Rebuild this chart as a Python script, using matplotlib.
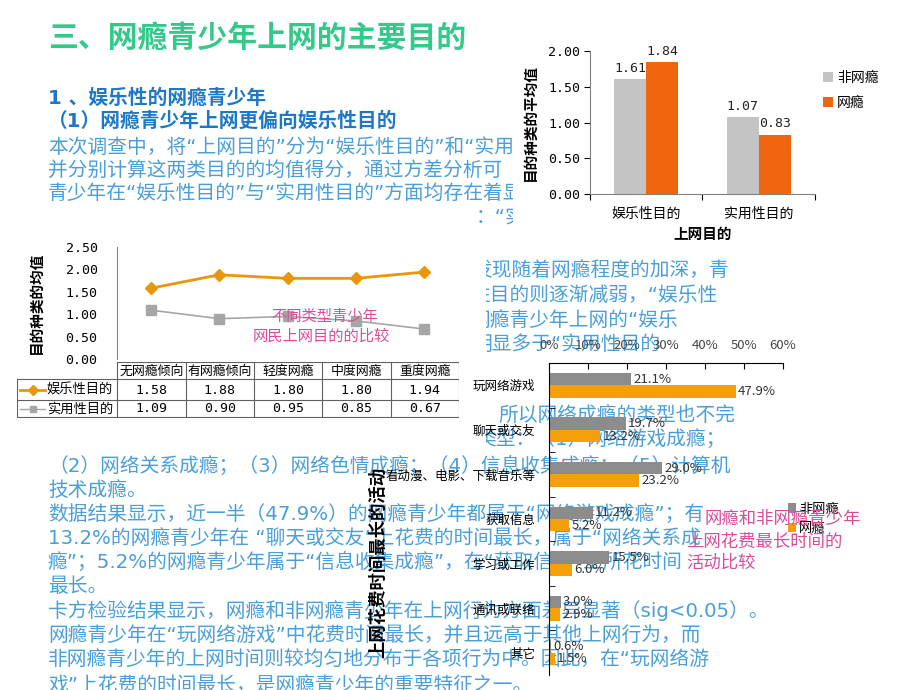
"""
网瘾青少年上网目的 - slide recreation
"""

import matplotlib
matplotlib.use("Agg")
import matplotlib.pyplot as plt
from matplotlib.patches import Rectangle

plt.rcParams['font.family'] = ['Noto Sans CJK SC', 'DejaVu Sans']
plt.rcParams['axes.unicode_minus'] = False

W, H = 920, 690

# 上网目的均值（非网瘾 / 网瘾）
purpose_cats = ['娱乐性目的', '实用性目的']
purpose_non = [1.61, 1.07]
purpose_add = [1.84, 0.83]
purpose_ticks = [0.0, 0.5, 1.0, 1.5, 2.0]

# 不同类型青少年网民上网目的
level_cats = ['无网瘾倾向', '有网瘾倾向', '轻度网瘾', '中度网瘾', '重度网瘾']
level_fun = [1.58, 1.88, 1.80, 1.80, 1.94]
level_use = [1.09, 0.90, 0.95, 0.85, 0.67]
level_ticks = [0.0, 0.5, 1.0, 1.5, 2.0, 2.5]
level_rows = ['娱乐性目的', '实用性目的']

# 上网花费时间最长的活动 (%)
act_cats = ['玩网络游戏', '聊天或交友', '看动漫、电影、下载音乐等', '获取信息',
            '学习或工作', '通讯或联络', '其它']
act_non = [21.1, 19.7, 29.0, 11.2, 15.5, 3.0, 0.6]
act_add = [47.9, 13.2, 23.2, 5.2, 6.0, 2.9, 1.5]
act_ticks = [0, 10, 20, 30, 40, 50, 60]

GREEN = '#33C98A'
HEAD = '#1F78C6'
BODY = '#4A9FD8'
PINK = '#DB4B9A'
MONO = 'DejaVu Sans Mono'
LATIN_FIRST = ['DejaVu Sans', 'Noto Sans CJK SC']   # narrow quotes / digits


def box(x0, y0, x1, y1):
    """pixel box (top-left origin) -> figure fraction rect"""
    return [x0 / W, 1 - y1 / H, (x1 - x0) / W, (y1 - y0) / H]


def ftext(fig, x, y, s, **kw):
    kw.setdefault('va', 'center')
    kw.setdefault('zorder', 0)
    return fig.text(x / W, 1 - y / H, s, **kw)


def white_box(fig, x0, y0, x1, y1):
    r = Rectangle((x0 / W, 1 - y1 / H), (x1 - x0) / W, (y1 - y0) / H,
                  transform=fig.transFigure, facecolor='white',
                  edgecolor='none', zorder=0.5)
    fig.add_artist(r)


fig = plt.figure(figsize=(9.2, 6.9), dpi=100)
fig.patch.set_facecolor('white')

# ---- text -----------------------------------------------------------------
ftext(fig, 48, 38, '三、网瘾青少年上网的主要目的', fontsize=21.5, color=GREEN,
      fontweight='bold')
ftext(fig, 48, 98, '1 、娱乐性的网瘾青少年', fontsize=14.2, color=HEAD,
      fontweight='bold', family=LATIN_FIRST)
ftext(fig, 48, 121, '（1）网瘾青少年上网更偏向娱乐性目的', fontsize=14.2, color=HEAD,
      fontweight='bold', family=LATIN_FIRST)

body = [
    (48, 147, '本次调查中，将“上网目的”分为“娱乐性目的”和“实用性'),
    (48, 170, '并分别计算这两类目的的均值得分，通过方差分析可'),
    (48, 193, '青少年在“娱乐性目的”与“实用性目的”方面均存在着显'),
    (476, 218, '：“实'),
    (472, 270, '发现随着网瘾程度的加深，青'),
    (470, 295, '性目的则逐渐减弱，“娱乐性'),
    (470, 320, '网瘾青少年上网的“娱乐'),
    (472, 344, '明显多于“实用性目的'),
    (498, 415, '所以网络成瘾的类型也不完'),
    (476, 440, '类型：（1）网络游戏成瘾；'),
    (48, 466, '（2）网络关系成瘾；（3）网络色情成瘾；（4）信息收集成瘾；（5）计算机'),
    (48, 490, '技术成瘾。'),
    (48, 515, '数据结果显示，近一半（47.9%）的网瘾青少年都属于“网络游戏成瘾”；有'),
    (48, 538, '13.2%的网瘾青少年在 “聊天或交友”上花费的时间最长，属于“网络关系成'),
    (48, 562, '瘾”；5.2%的网瘾青少年属于“信息收集成瘾”，在“获取信息”上所花时间'),
    (48, 587, '最长。'),
    (48, 611, '卡方检验结果显示，网瘾和非网瘾青少年在上网行为方面差异显著（sig<0.05）。'),
    (48, 636, '网瘾青少年在“玩网络游戏”中花费时间最长，并且远高于其他上网行为，而'),
    (48, 660, '非网瘾青少年的上网时间则较均匀地分布于各项行为中。因此，在“玩网络游'),
    (48, 685, '戏”上花费的时间最长，是网瘾青少年的重要特征之一。'),
]
for x, y, s in body:
    ftext(fig, x, y, s, fontsize=14.2, color=BODY, family=LATIN_FIRST)

# white backgrounds of pasted chart pictures
white_box(fig, 513, 32, 890, 246)
white_box(fig, 0, 228, 486, 452)

# ---- top right: grouped bars ----------------------------------------------
ax1 = fig.add_axes(box(590, 51, 815, 194))
ax1.set_zorder(1)
ax1.set_facecolor('none')
xs = range(len(purpose_cats))
bw = 0.286
b1 = ax1.bar([i - bw / 2 for i in xs], purpose_non, bw, color='#C4C4C4', label='非网瘾')
b2 = ax1.bar([i + bw / 2 for i in xs], purpose_add, bw, color='#F2650F', label='网瘾')
for bars, vals in ((b1, purpose_non), (b2, purpose_add)):
    for b, v in zip(bars, vals):
        ax1.text(b.get_x() + b.get_width() / 2, v + 0.06, f'{v:.2f}', ha='center',
                 va='bottom', fontsize=9.5, family=MONO, color='#222222')
ax1.set_xlim(-0.5, 1.5)
ax1.set_ylim(0, 2.0)
ax1.set_yticks(purpose_ticks)
ax1.set_yticklabels([f'{t:.2f}' for t in purpose_ticks], family=MONO, fontsize=9.5)
ax1.set_xticks([-0.5, 0.5, 1.5])
ax1.set_xticklabels([])
ax1.set_xticks(list(xs), minor=True)
ax1.set_xticklabels(purpose_cats, minor=True, fontsize=10)
ax1.tick_params(axis='x', which='minor', length=0, pad=9)
ax1.tick_params(axis='x', which='major', length=4, direction='out')
ax1.tick_params(axis='y', length=4, direction='out', pad=3)
for s in ('top', 'right'):
    ax1.spines[s].set_visible(False)
for s in ('left', 'bottom'):
    ax1.spines[s].set_color('#808080')
ax1.set_xlabel('上网目的', fontsize=10.5, fontweight='bold', labelpad=4)
ax1.set_ylabel('目的种类的平均值', fontsize=10.5, fontweight='bold', labelpad=8)
ax1.legend(loc='upper left', bbox_to_anchor=(1.0, 0.92), frameon=False, fontsize=10,
           handlelength=0.7, handleheight=0.7, handletextpad=0.3, labelspacing=0.8,
           borderaxespad=0.2)

# ---- left: line chart with data table ---------------------------------------
ax2 = fig.add_axes(box(117, 247, 458, 359))
ax2.set_zorder(1)
ax2.set_facecolor('none')
lx = list(range(len(level_cats)))
ax2.plot(lx, level_fun, color='#E8960C', lw=2, marker='D', ms=6.5,
         markeredgecolor='#E8960C')
ax2.plot(lx, level_use, color='#A6A6A6', lw=1.2, marker='s', ms=6.5)
ax2.set_xlim(-0.5, 4.5)
ax2.set_ylim(0, 2.5)
ax2.set_yticks(level_ticks)
ax2.set_yticklabels([f'{t:.2f}' for t in level_ticks], family=MONO, fontsize=9.5)
ax2.tick_params(axis='y', length=0, pad=14)
ax2.set_xticks([])
for s in ('top', 'right', 'bottom'):
    ax2.spines[s].set_visible(False)
ax2.spines['left'].set_color('#808080')
ax2.set_ylabel('目的种类的均值', fontsize=10.5, fontweight='bold', labelpad=16)
ax2.text(0.61, 0.38, '不同类型青少年', transform=ax2.transAxes, ha='center',
         va='center', fontsize=11, color=PINK)
ax2.text(0.60, 0.20, '网民上网目的的比较', transform=ax2.transAxes, ha='center',
         va='center', fontsize=11, color=PINK)

tax = fig.add_axes(box(17, 362, 459, 418))
tax.set_zorder(1)
tax.set_facecolor('none')
tax.set_xlim(-1.966, 4.5)
tax.set_ylim(418, 362)
tax.axis('off')
lc = '#606060'
tax.plot([-0.5, 4.5], [362, 362], color=lc, lw=0.8)
for yy in (379, 400, 417):
    tax.plot([-1.966, 4.5], [yy, yy], color=lc, lw=0.8)
tax.plot([-1.966, -1.966], [379, 417], color=lc, lw=0.8)
for k in range(len(level_cats) + 1):
    tax.plot([k - 0.5, k - 0.5], [362, 417], color=lc, lw=0.8)
for k, c in enumerate(level_cats):
    tax.text(k, 371, c, ha='center', va='center', fontsize=9.3)
for row_y, vals in ((390, level_fun), (409, level_use)):
    for k, v in enumerate(vals):
        tax.text(k, row_y, f'{v:.2f}', ha='center', va='center', fontsize=9.5,
                 family=MONO)
tax.plot([-1.92, -1.55], [390, 390], color='#E8960C', lw=2)
tax.plot([-1.735], [390], marker='D', ms=5, color='#E8960C')
tax.plot([-1.92, -1.55], [409, 409], color='#A6A6A6', lw=1)
tax.plot([-1.735], [409], marker='s', ms=5, color='#A6A6A6')
tax.text(-0.56, 390, level_rows[0], ha='right', va='center', fontsize=9.5)
tax.text(-0.56, 409, level_rows[1], ha='right', va='center', fontsize=9.5)

# ---- bottom right: horizontal bars ------------------------------------------
ax3 = fig.add_axes(box(549, 363, 783, 675))
ax3.set_zorder(2)
ax3.set_facecolor('none')
ay = list(range(len(act_cats)))
bh = 0.28
h1 = ax3.barh([i - bh / 2 for i in ay], act_non, bh, color='#8C8C8C', label='非网瘾')
h2 = ax3.barh([i + bh / 2 for i in ay], act_add, bh, color='#F5A00A', label='网瘾')
for bars, vals in ((h1, act_non), (h2, act_add)):
    for b, v in zip(bars, vals):
        ax3.text(v + 0.6, b.get_y() + b.get_height() / 2, f'{v:.1f}%', va='center',
                 ha='left', fontsize=9.5, color='#333333')
ax3.set_xlim(0, 60)
ax3.set_ylim(6.5, -0.5)
ax3.xaxis.tick_top()
ax3.set_xticks(act_ticks)
ax3.set_xticklabels([f'{t}%' for t in act_ticks], fontsize=9.5, color='#444444')
ax3.tick_params(axis='x', direction='in', length=4, pad=8)
ax3.set_yticks(ay)
ax3.set_yticklabels(act_cats, fontsize=9)
ax3.tick_params(axis='y', length=0, pad=10)
ax3.set_yticks([i + 0.5 for i in ay[:-1]], minor=True)
ax3.tick_params(axis='y', which='minor', direction='in', length=4)
for s in ('right', 'bottom'):
    ax3.spines[s].set_visible(False)
ax3.legend(loc='center left', bbox_to_anchor=(1.0, 0.5), frameon=False, fontsize=9.5,
           handlelength=0.6, handleheight=0.7, handletextpad=0.2, labelspacing=0.5,
           borderaxespad=0.0)
ftext(fig, 378, 562, '上网花费时间最长的活动', fontsize=12.5, rotation=90,
      ha='center', fontweight='bold', zorder=2)

ftext(fig, 705, 519, '网瘾和非网瘾青少年', fontsize=12.5, color=PINK, zorder=3)
ftext(fig, 686, 542, '上网花费最长时间的', fontsize=12.5, color=PINK, zorder=3)
ftext(fig, 686, 563, '活动比较', fontsize=12.5, color=PINK, zorder=3)

fig.savefig('out.png', dpi=100)
